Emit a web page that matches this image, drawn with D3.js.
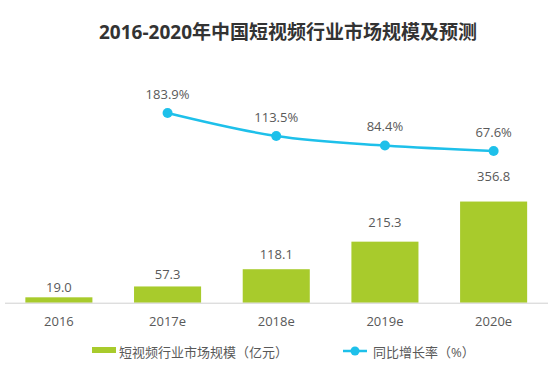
<!DOCTYPE html>
<html><head><meta charset="utf-8">
<script src="https://cdn.jsdelivr.net/npm/d3@7"></script>
<style>body{margin:0;background:#fff;}svg{display:block;}</style>
</head><body>
<svg id="c" width="560" height="372"></svg>
<script>
const title = "2016-2020年中国短视频行业市场规模及预测";
const categories = ["2016", "2017e", "2018e", "2019e", "2020e"];
const marketSize = [19.0, 57.3, 118.1, 215.3, 356.8];
const growthCats = ["2017e", "2018e", "2019e", "2020e"];
const growthRate = [183.9, 113.5, 84.4, 67.6];
const legendBar = "短视频行业市场规模（亿元）";
const legendLine = "同比增长率（%）";

const svg = d3.select("#c");
const font = "'Open Sans','Noto Sans CJK SC',sans-serif";
const textColor = "#595959";
const barColor = "#a8cb2c";
const lineColor = "#1ec0ea";
const fs = 13;

const x = d3.scaleBand().domain(categories).range([4.7, 547.8]).paddingInner(0.383).paddingOuter(0.19);
const yBar = d3.scaleLinear().domain([0, 400]).range([302.7, 302.7 - 113.4]);
const yBarLabel = d3.scaleLinear().domain([0, 400]).range([293.2, 293.2 - 131.4]);
const yLine = d3.scaleLinear().domain([0, 200]).range([173.1, 173.1 - 65.35]);

// title
svg.append("text").attr("x", 288).attr("y", 39).attr("text-anchor", "middle")
  .attr("font-family", font).attr("font-weight", "bold").attr("font-size", 19)
  .attr("fill", "#333").text(title);

// bars
const bars = categories.map((c, i) => ({c, v: marketSize[i]}));
svg.append("g").selectAll("rect").data(bars).join("rect")
  .attr("x", d => x(d.c)).attr("width", x.bandwidth())
  .attr("y", d => yBar(d.v)).attr("height", d => yBar(0) - yBar(d.v))
  .attr("fill", barColor);
svg.append("g").selectAll("text").data(bars).join("text")
  .attr("x", d => x(d.c) + x.bandwidth() / 2).attr("y", d => yBarLabel(d.v))
  .attr("dy", "0.35em").attr("text-anchor", "middle")
  .attr("font-family", font).attr("font-size", fs).attr("fill", textColor)
  .text(d => d.v.toFixed(1));

// axis
const axis = d3.axisBottom(x).tickSize(0).tickPadding(14);
const ag = svg.append("g").attr("transform", `translate(0,${yBar(0)})`).call(axis);
ag.select(".domain").attr("stroke", "#d0d0d0").attr("d", "M5,0.5H548");
ag.selectAll("text").attr("font-family", font).attr("font-size", fs).attr("fill", textColor);

// line
const pts = growthCats.map((c, i) => ({c, v: growthRate[i]}));
const cx = d => x(d.c) + x.bandwidth() / 2;
svg.append("path").datum(pts)
  .attr("d", d3.line().x(cx).y(d => yLine(d.v)).curve(d3.curveMonotoneX))
  .attr("fill", "none").attr("stroke", lineColor).attr("stroke-width", 2.5);
svg.append("g").selectAll("circle").data(pts).join("circle")
  .attr("cx", cx).attr("cy", d => yLine(d.v)).attr("r", 5).attr("fill", lineColor);
svg.append("g").selectAll("text").data(pts).join("text")
  .attr("x", cx).attr("y", d => yLine(d.v) - 19).attr("dy", "0.35em")
  .attr("text-anchor", "middle").attr("font-family", font).attr("font-size", fs)
  .attr("fill", textColor).text(d => d.v.toFixed(1) + "%");

// legend
const lg = svg.append("g");
lg.append("rect").attr("x", 92).attr("y", 347).attr("width", 24).attr("height", 6).attr("fill", barColor);
lg.append("text").attr("x", 119).attr("y", 352).attr("dy", "0.35em")
  .attr("font-family", font).attr("font-size", fs).attr("fill", textColor).text(legendBar);
lg.append("line").attr("x1", 343).attr("x2", 367).attr("y1", 351).attr("y2", 351)
  .attr("stroke", lineColor).attr("stroke-width", 2.5);
lg.append("circle").attr("cx", 355).attr("cy", 351).attr("r", 4.5).attr("fill", lineColor);
lg.append("text").attr("x", 373).attr("y", 352).attr("dy", "0.35em")
  .attr("font-family", font).attr("font-size", fs).attr("fill", textColor).text(legendLine);
</script>
</body></html>
